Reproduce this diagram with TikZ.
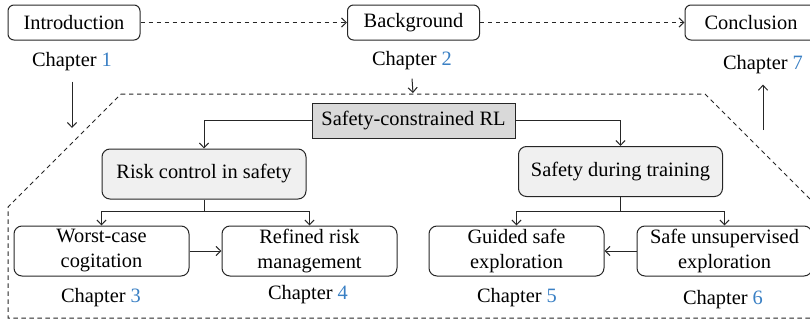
\documentclass[tikz,border=0pt]{standalone}
\usepackage{fontspec}
\setmainfont{Liberation Serif}
\usetikzlibrary{arrows.meta}
\definecolor{chapblue}{RGB}{58,128,196}

\begin{document}
\begin{tikzpicture}[x=0.5pt,y=-0.5pt,
    font=\fontsize{10.2}{12.5}\selectfont,
    >={Straight Barb[length=2.4pt,width=4.6pt]},
    line/.style={draw=black!85,line width=0.5pt},
    dashline/.style={line,dash pattern=on 2.2pt off 1.8pt},
    topbox/.style={draw=black!85,line width=0.5pt,rounded corners=3pt,minimum width=66pt,minimum height=17.5pt,inner sep=0pt},
    rootbox/.style={draw=black!85,line width=0.5pt,fill=black!15,minimum width=101.5pt,minimum height=17.5pt,inner sep=0pt},
    groupbox/.style={draw=black!85,line width=0.5pt,fill=black!6,rounded corners=4pt,minimum width=102pt,minimum height=25pt,inner sep=0pt},
    leafbox/.style={draw=black!85,line width=0.5pt,rounded corners=4pt,minimum width=87.5pt,minimum height=25pt,inner sep=0pt,align=center},
    chap/.style={inner sep=0pt}]
  \useasboundingbox (0,0) rectangle (810,322);

  % Outer chapters
  \node[topbox] (intro) at (74,22.5) {Introduction};
  \node[topbox] (backg) at (413.5,22.5) {Background};
  \node[topbox] (concl) at (751,22.5) {Conclusion};
  \node[chap] (ch1) at (72,62) {Chapter \textcolor{chapblue}{1}};
  \node[chap] (ch2) at (412,61) {Chapter \textcolor{chapblue}{2}};
  \node[chap] (ch7) at (763,65) {Chapter \textcolor{chapblue}{7}};
  \draw[dashline,->] (intro.east) -- (backg.west);
  \draw[dashline,->] (backg.east) -- (concl.west);

  % Dashed frame around the core chapters
  \draw[dashline] (121,94) -- (705,94) -- (830,219) -- (830,318) -- (8,318) -- (8,207) -- cycle;
  \coordinate (in1) at (72,128);
  \coordinate (in2) at (413,93);
  \coordinate (out7) at (763,130);
  \draw[line,->] ([yshift=-5pt]ch1.south) -- (in1);
  \draw[line,->] ([yshift=-4pt]ch2.south) -- (in2);
  \draw[line,->] (out7) -- ([yshift=-5pt]ch7.south);

  % Core tree
  \node[rootbox] (scrl) at (413.5,120.5) {Safety-constrained RL};
  \node[groupbox] (risk) at (204,174) {Risk control in safety};
  \node[groupbox] (train) at (620.5,171.5) {Safety during training};
  \draw[line,->] (scrl.west) -| (risk.north);
  \draw[line,->] (scrl.east) -| (train.north);

  \node[leafbox] (worst) at (101.5,251) {Worst-case\\cogitation};
  \node[leafbox] (refined) at (309.5,251) {Refined risk\\management};
  \node[leafbox] (guided) at (516.5,251) {Guided safe\\exploration};
  \node[leafbox] (unsup) at (724.5,251) {Safe unsupervised\\exploration};
  \node[chap] (ch3) at (101,298) {Chapter \textcolor{chapblue}{3}};
  \node[chap] (ch4) at (308,295) {Chapter \textcolor{chapblue}{4}};
  \node[chap] (ch5) at (517,298) {Chapter \textcolor{chapblue}{5}};
  \node[chap] (ch6) at (723,300) {Chapter \textcolor{chapblue}{6}};

  \coordinate (rsplit) at (204,211);
  \coordinate (tsplit) at (620.5,211);
  \draw[line] (risk.south) -- (rsplit);
  \draw[line,->] (rsplit) -| (worst.north);
  \draw[line,->] (rsplit) -| (refined.north);
  \draw[line] (train.south) -- (tsplit);
  \draw[line,->] (tsplit) -| (guided.north);
  \draw[line,->] (tsplit) -| (unsup.north);
  \draw[line,->] (worst.east) -- (refined.west);
  \draw[line,->] (unsup.west) -- (guided.east);
\end{tikzpicture}
\end{document}
